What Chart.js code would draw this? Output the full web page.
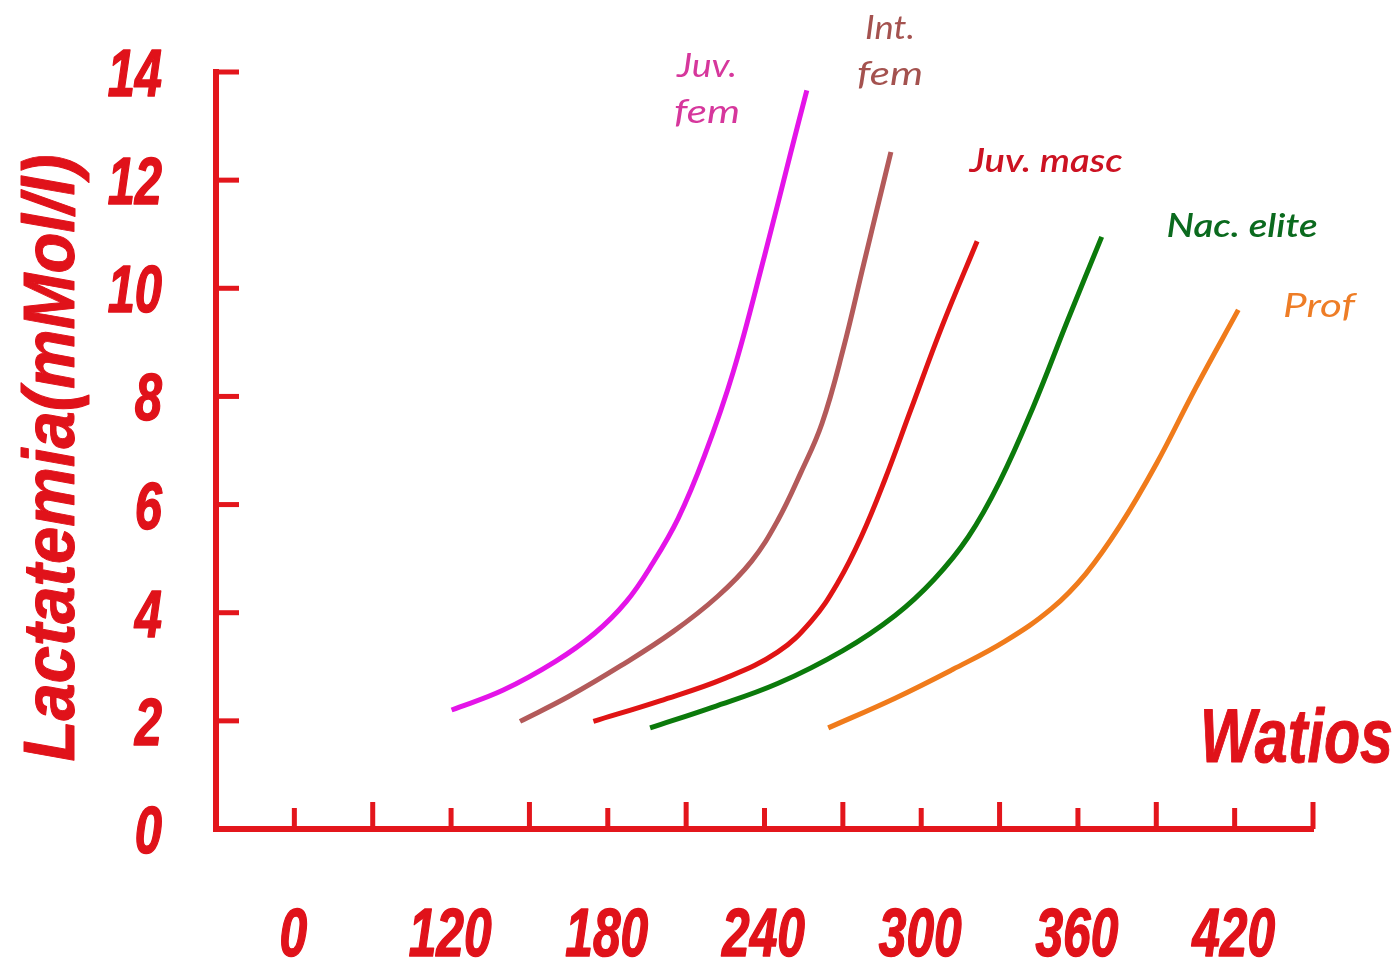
<!DOCTYPE html>
<html>
<head>
<meta charset="utf-8">
<script src="https://cdn.jsdelivr.net/npm/chart.js@4/dist/chart.umd.min.js"></script>
<style>
html,body{margin:0;padding:0;background:#ffffff;}
canvas{display:block;}
</style>
</head>
<body>
<canvas id="c" width="1400" height="962"></canvas>
<script>
// ---------- data ----------
const xTickMarks  = [60, 90, 120, 150, 180, 210, 240, 270, 300, 330, 360, 390, 420, 450];
const xTickValues = [60, 120, 180, 240, 300, 360, 420];
const xTickLabels = ['0', '120', '180', '240', '300', '360', '420'];
const yTickValues = [0, 2, 4, 6, 8, 10, 12, 14];
const yTickLabels = ['0', '2', '4', '6', '8', '10', '12', '14'];

const xTitle = 'Watios';
const yTitle = 'Lactatemia(mMol/l)';

const seriesNames = [['Juv.', 'fem'], ['Int.', 'fem'], ['Juv. masc'], ['Nac. elite'], ['Prof']];

const juvFemW = [120.2, 140, 160, 175, 187, 197, 207, 217, 228, 240, 250, 256.2];
const juvFemL = [2.20, 2.57, 3.10, 3.62, 4.20, 4.90, 5.75, 6.90, 8.45, 10.6, 12.5, 13.66];

const intFemW = [146.4, 165, 185, 205, 222, 235, 245, 254, 262, 270, 278, 284, 288.4];
const intFemL = [1.99, 2.45, 3.02, 3.65, 4.30, 4.95, 5.70, 6.60, 7.50, 8.85, 10.45, 11.65, 12.52];

const juvMascW = [174.5, 200, 225, 245, 258, 268, 277, 286, 296, 308, 321.4];
const juvMascL = [1.99, 2.37, 2.79, 3.27, 3.85, 4.55, 5.40, 6.45, 7.75, 9.30, 10.87];

const nacEliteW = [196.2, 220, 245, 270, 290, 305, 318, 330, 343, 356, 369.1];
const nacEliteL = [1.87, 2.25, 2.69, 3.30, 3.95, 4.62, 5.40, 6.42, 7.82, 9.40, 10.95];

const profW = [264.4, 290, 312, 332, 350, 363, 376, 390, 405, 421.4];
const profL = [1.87, 2.42, 2.95, 3.47, 4.08, 4.72, 5.60, 6.75, 8.15, 9.60];

// ---------- styles ----------
const AXIS_RED = '#e3161c';
const TEXT_RED = '#e0121a';
const lineColors  = ['#e414e8', '#b35a5a', '#e01414', '#0b7a0b', '#f07b1b'];
const labelColors = ['#d6379c', '#a4524f', '#cc1222', '#0b6a1e', '#ee7d26'];
// label placement (pixels): center x, baselines, target widths, weight
const labelPlacement = [
  {cx: 707, base: [77, 123], w: [60, 66], weight: 'normal'},
  {cx: 890, base: [39, 85],  w: [50, 66], weight: 'normal'},
  {cx: 1046, base: [172],    w: [153],    weight: '600'},
  {cx: 1242, base: [237],    w: [151],    weight: '600'},
  {cx: 1319, base: [317],    w: [72],     weight: 'normal'}
];

function zip(xs, ys) { return xs.map((x, i) => ({x: x, y: ys[i]})); }

const seriesData = [
  zip(juvFemW, juvFemL),
  zip(intFemW, intFemL),
  zip(juvMascW, juvMascL),
  zip(nacEliteW, nacEliteL),
  zip(profW, profL)
];

const BOLD_IT = '"Liberation Sans", Arial, sans-serif';
const LABEL_FONT = 'Lato, "Open Sans", "Noto Sans", sans-serif';

function drawScaledText(ctx, text, font, color, x, y, sx, align, stroke) {
  ctx.save();
  ctx.font = font;
  ctx.fillStyle = color;
  ctx.strokeStyle = color;
  ctx.textAlign = align || 'center';
  ctx.textBaseline = 'alphabetic';
  ctx.translate(x, y);
  ctx.scale(sx, 1);
  ctx.fillText(text, 0, 0);
  if (stroke) {
    ctx.lineWidth = stroke;
    ctx.lineJoin = 'round';
    ctx.strokeText(text, 0, 0);
  }
  ctx.restore();
}
function drawFitText(ctx, text, font, color, x, y, targetW, align, stroke) {
  ctx.save();
  ctx.font = font;
  const w = ctx.measureText(text).width;
  ctx.restore();
  drawScaledText(ctx, text, font, color, x, y, targetW / w, align, stroke);
}

const decorPlugin = {
  id: 'decor',
  afterDraw(chart) {
    const ctx = chart.ctx;
    const xs = chart.scales.x, ys = chart.scales.y;
    const area = chart.chartArea;
    ctx.save();
    ctx.fillStyle = AXIS_RED;
    // x tick marks (pointing up into the plot)
    xTickMarks.forEach((v, i) => {
      const px = xs.getPixelForValue(v);
      const len = (i % 2 === 1) ? 27 : 21;
      ctx.fillRect(px - 2.5, area.bottom - len, 5, len);
    });
    // y tick marks (pointing right into the plot)
    yTickValues.forEach(v => {
      if (v === 0) return;
      const py = ys.getPixelForValue(v);
      ctx.fillRect(area.left, py - 2.5, 23, 5);
    });
    ctx.restore();

    // x tick labels
    xTickValues.forEach((v, i) => {
      const px = xs.getPixelForValue(v);
      drawScaledText(ctx, xTickLabels[i], 'italic bold 68px ' + BOLD_IT, TEXT_RED, px - 1, 956, 0.73, 'center', 1.5);
    });
    // y tick labels
    yTickValues.forEach((v, i) => {
      const py = ys.getPixelForValue(v);
      drawScaledText(ctx, yTickLabels[i], 'italic bold 66px ' + BOLD_IT, TEXT_RED, 162, py + 24, 0.74, 'right', 1.5);
    });
    // x title
    drawFitText(ctx, xTitle, 'italic bold 76px ' + BOLD_IT, TEXT_RED, 1393, 762, 193, 'right', 1);
    // y title (rotated)
    ctx.save();
    ctx.translate(74, 458);
    ctx.rotate(-Math.PI / 2);
    drawFitText(ctx, yTitle, 'italic bold 72px ' + BOLD_IT, TEXT_RED, 0, 0, 607, 'center', 1);
    ctx.restore();

    // series labels
    seriesNames.forEach((lines, si) => {
      const p = labelPlacement[si];
      lines.forEach((t, li) => {
        drawFitText(ctx, t, 'italic ' + p.weight + ' 33px ' + LABEL_FONT, labelColors[si], p.cx, p.base[li], p.w[li], 'center');
      });
    });
  }
};

new Chart(document.getElementById('c'), {
  type: 'line',
  data: {
    datasets: seriesData.map((d, i) => ({
      label: seriesNames[i].join(' '),
      data: d,
      borderColor: lineColors[i],
      backgroundColor: lineColors[i],
      borderWidth: 5,
      pointRadius: 0,
      fill: false,
      tension: 0.4,
      borderCapStyle: 'butt',
      borderJoinStyle: 'round'
    }))
  },
  options: {
    responsive: false,
    animation: false,
    devicePixelRatio: 1,
    layout: {padding: {left: 216, right: 87, top: 72, bottom: 133}},
    plugins: {legend: {display: false}, tooltip: {enabled: false}},
    scales: {
      x: {
        type: 'linear', min: 30, max: 450,
        grid: {display: false, drawTicks: false},
        ticks: {display: false},
        border: {display: true, color: AXIS_RED, width: 6}
      },
      y: {
        type: 'linear', min: 0, max: 14,
        grid: {display: false, drawTicks: false},
        ticks: {display: false},
        border: {display: true, color: AXIS_RED, width: 6}
      }
    }
  },
  plugins: [decorPlugin]
});
</script>
</body>
</html>
